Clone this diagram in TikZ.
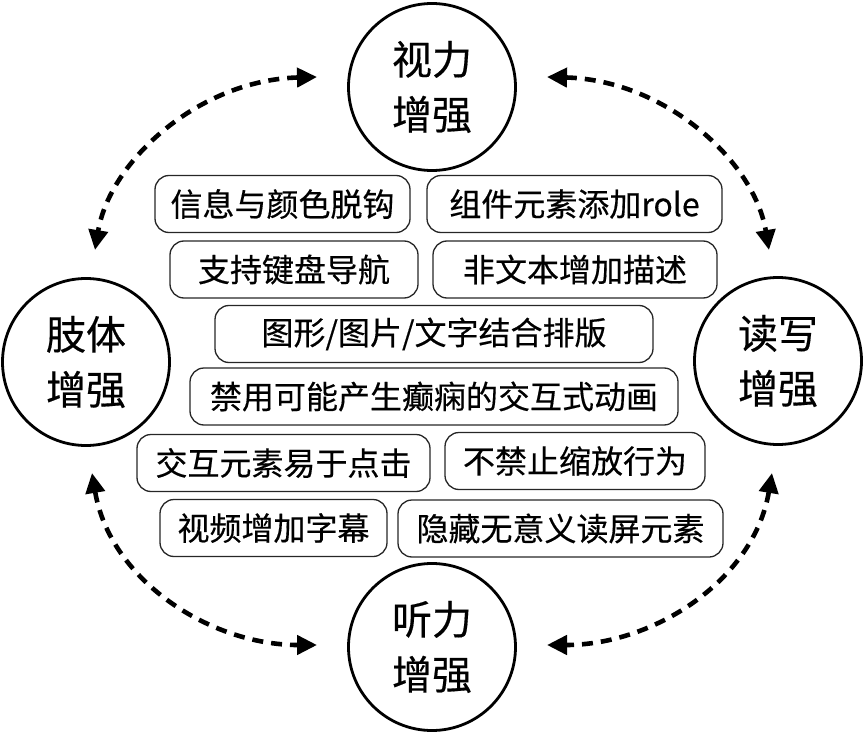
\documentclass[tikz,border=0pt]{standalone}
\usepackage{fontspec}
\setmainfont{Noto Sans CJK SC}[FakeBold=0.4]
\usetikzlibrary{arrows.meta}
\begin{document}
\begin{tikzpicture}[x=1pt,y=-1pt,
 circ/.style={circle,draw,line width=2.8pt,minimum size=167pt,inner sep=0pt,align=center,font=\fontsize{40}{55}\selectfont},
 box/.style={draw=black!85,line width=1.3pt,rounded corners=14pt,minimum height=57pt,inner sep=0pt,font=\fontsize{32}{36}\selectfont},
 conn/.style={line width=4.6pt,dash pattern=on 11pt off 8pt,{Triangle[length=20pt,width=19pt]}-{Triangle[length=20pt,width=19pt]}}]
\useasboundingbox (0,0) rectangle (865,733);
% circles
\node[circ] (top) at (432,87) {视力\\增强};
\node[circ] (left) at (86,362) {肢体\\增强};
\node[circ] (right) at (778,361) {读写\\增强};
\node[circ] (bottom) at (432,647) {听力\\增强};
% boxes
\node[box,minimum width=255pt] (b1) at (282.5,204) {信息与颜色脱钩};
\node[box,minimum width=295pt] (b2) at (574.5,204) {组件元素添加role};
\node[box,minimum width=248pt] (b3) at (294,269.5) {支持键盘导航};
\node[box,minimum width=284pt] (b4) at (575,269.5) {非文本增加描述};
\node[box,minimum width=438pt] (b5) at (434,334) {图形/图片/文字结合排版};
\node[box,minimum width=488pt] (b6) at (434,396.5) {禁用可能产生癫痫的交互式动画};
\node[box,minimum width=293pt] (b7) at (283.5,463) {交互元素易于点击};
\node[box,minimum width=260pt] (b8) at (575,461) {不禁止缩放行为};
\node[box,minimum width=227pt] (b9) at (273.5,528) {视频增加字幕};
\node[box,minimum width=325pt] (b10) at (560.5,528.5) {隐藏无意义读屏元素};
% arrow end points
\coordinate (tl1) at (317,77);
\coordinate (tl2) at (95,250);
\coordinate (tr1) at (547,77);
\coordinate (tr2) at (769,250);
\coordinate (bl1) at (92,473);
\coordinate (bl2) at (317,645);
\coordinate (br1) at (772,473);
\coordinate (br2) at (547,645);
\draw[conn] (tl1) .. controls (200,80) and (110,160) .. (tl2);
\draw[conn] (tr1) .. controls (664,80) and (754,160) .. (tr2);
\draw[conn] (bl1) .. controls (110,580) and (210,645) .. (bl2);
\draw[conn] (br1) .. controls (754,580) and (654,645) .. (br2);
\end{tikzpicture}
\end{document}
